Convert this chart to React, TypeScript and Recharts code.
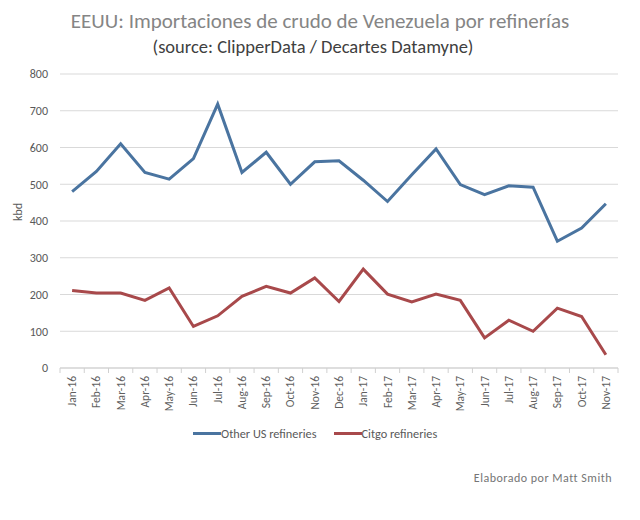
import { LineChart, Line, XAxis, YAxis, CartesianGrid } from "recharts";

const months = [
  "Jan-16", "Feb-16", "Mar-16", "Apr-16", "May-16", "Jun-16", "Jul-16", "Aug-16",
  "Sep-16", "Oct-16", "Nov-16", "Dec-16", "Jan-17", "Feb-17", "Mar-17", "Apr-17",
  "May-17", "Jun-17", "Jul-17", "Aug-17", "Sep-17", "Oct-17", "Nov-17",
];
const otherUS = [
  480, 535, 610, 532, 514, 570, 718, 532, 587, 500, 561, 564, 511, 453, 526, 596,
  499, 472, 496, 492, 345, 381, 447,
];
const citgo = [
  211, 204, 204, 184, 218, 113, 142, 195, 222, 204, 245, 181, 269, 201, 180, 201,
  184, 82, 130, 100, 163, 140, 36,
];
const yTicks = [0, 100, 200, 300, 400, 500, 600, 700, 800];

const BLUE = "#4a74a0";
const RED = "#a8494b";
const FONT = "Carlito, 'Liberation Sans Narrow', 'Open Sans', sans-serif";

const data = months.map((m, i) => ({ month: m, other: otherUS[i], citgo: citgo[i] }));

// Excel-style ticks sit between categories, not on them
function MonthTick(props: any) {
  const { x, y, payload, index, visibleTicksCount } = props;
  const half = 558 / months.length / 2;
  return (
    <g>
      <line x1={x - half} y1={y - 6} x2={x - half} y2={y - 1} stroke="#d0d0d0" />
      {index === visibleTicksCount - 1 && (
        <line x1={x + half} y1={y - 6} x2={x + half} y2={y - 1} stroke="#d0d0d0" />
      )}
      <text
        x={x}
        y={y + 2}
        transform={`rotate(-90, ${x}, ${y + 2})`}
        textAnchor="end"
        dominantBaseline="central"
        fill="#5f5f5f"
        fontSize={11.5}
        fontFamily={FONT}
      >
        {payload.value}
      </text>
    </g>
  );
}

export default function App() {
  return (
    <div style={{ position: "absolute", left: 0, top: 0, width: 640, height: 520, background: "#fff", fontFamily: FONT }}>
      <div style={{ position: "absolute", top: 8, width: 640, textAlign: "center", fontSize: 21, color: "#858585" }}>
        EEUU: Importaciones de crudo de Venezuela por refinerías
      </div>
      <div style={{ position: "absolute", top: 35, left: -7, width: 640, textAlign: "center", fontSize: 18.5, color: "#404040" }}>
        (source: ClipperData / Decartes Datamyne)
      </div>
      <LineChart width={640} height={520} data={data} margin={{ top: 74, right: 22, left: 0, bottom: 107 }}>
        <CartesianGrid vertical={false} stroke="#d9d9d9" />
        <XAxis
          dataKey="month"
          scale="band"
          interval={0}
          height={45}
          axisLine={{ stroke: "#d0d0d0" }}
          tickLine={false}
          tick={<MonthTick />}
          tickMargin={0}
        />
        <YAxis
          width={60}
          domain={[0, 800]}
          ticks={yTicks}
          axisLine={false}
          tickLine={false}
          tickMargin={6}
          tick={{ fill: "#595959", fontSize: 12, fontFamily: FONT }}
          label={{ value: "kbd", angle: -90, position: "insideLeft", offset: 18, fill: "#595959", fontSize: 12, fontFamily: FONT }}
        />
        <Line dataKey="other" stroke={BLUE} strokeWidth={3} dot={false} isAnimationActive={false} />
        <Line dataKey="citgo" stroke={RED} strokeWidth={3} dot={false} isAnimationActive={false} />
      </LineChart>
      <div style={{ position: "absolute", top: 426, left: 193, display: "flex", alignItems: "center", fontSize: 12.3, color: "#595959" }}>
        <span style={{ display: "inline-block", width: 28, height: 3, background: BLUE }} />
        <span style={{ marginRight: 17 }}>Other US refineries</span>
        <span style={{ display: "inline-block", width: 28, height: 3, background: RED }} />
        <span>Citgo refineries</span>
      </div>
      <div style={{ position: "absolute", top: 471, right: 28, fontSize: 12, color: "#757575", letterSpacing: 0.5 }}>
        Elaborado por Matt Smith
      </div>
    </div>
  );
}
